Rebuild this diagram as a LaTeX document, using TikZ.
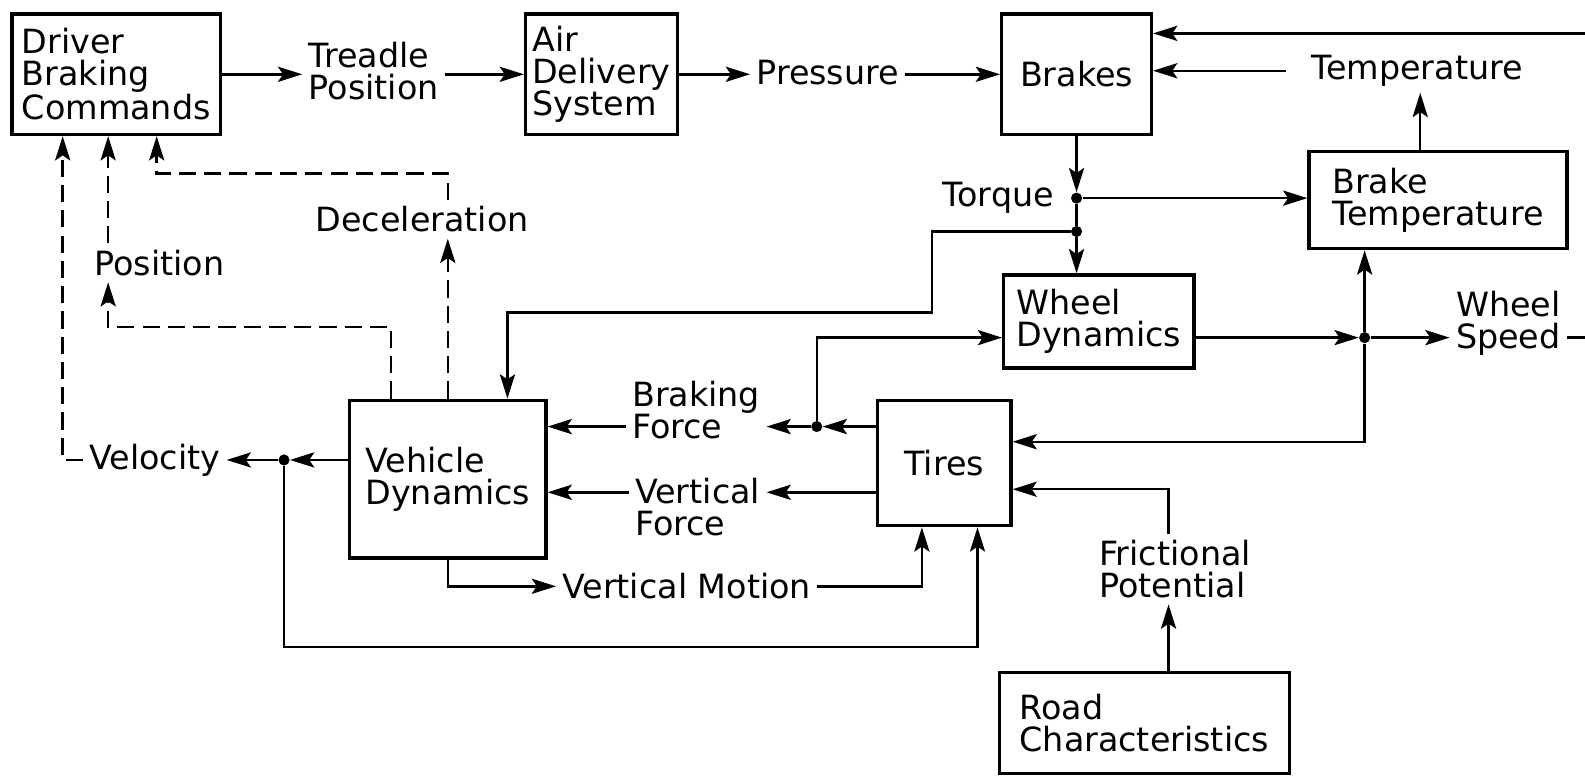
\documentclass[tikz,border=0pt]{standalone}
\usepackage{fontspec}
\setmainfont{DejaVu Sans}
\usetikzlibrary{arrows.meta}
\tikzset{
  blk/.style={draw, line width=1.7pt, align=left, inner sep=0pt, font=\fontsize{16.5}{15.8}\selectfont},
  lbl/.style={align=left, inner sep=3pt, font=\fontsize{16.5}{15.8}\selectfont},
  jdot/.style={circle, fill, inner sep=0pt, minimum size=5.5pt},
  ln/.style={line width=1.2pt},
  arr/.style={line width=1.2pt, -{Stealth[length=12pt,width=7.5pt,inset=2.5pt]}},
  dsh/.style={dash pattern=on 8.5pt off 4pt},
}
\begin{document}
\begin{tikzpicture}[x=0.5pt,y=-0.5pt]
\useasboundingbox (0,0) rectangle (1568,767);
% boxes
\node[blk, minimum width=103pt, minimum height=59.5pt] (drv) at (115,73.5) {Driver\\Braking\\Commands};
\node[blk, minimum width=75pt, minimum height=59.5pt] (air) at (595,73.5) {Air\\Delivery\\System};
\node[blk, minimum width=74pt, minimum height=59.5pt] (brk) at (1065,73.5) {Brakes};
\node[blk, minimum width=127.5pt, minimum height=48pt] (btemp) at (1422.5,198) {Brake\\Temperature};
\node[blk, minimum width=94pt, minimum height=46pt] (wdyn) at (1087,318) {Wheel\\Dynamics};
\node[blk, minimum width=97pt, minimum height=78pt] (vdyn) at (443,474) {Vehicle\\Dynamics};
\node[blk, minimum width=66pt, minimum height=62pt] (tires) at (934,458) {Tires};
\node[blk, minimum width=143.5pt, minimum height=50pt] (road) at (1132,715) {Road\\Characteristics};
% labels
\node[lbl, anchor=west] (tread) at (299,70) {Treadle\\Position};
\node[lbl, anchor=west] (press) at (742,72) {Pressure};
\node[lbl, anchor=east] (torque) at (1049,196) {Torque};
\node[lbl, anchor=west] (temp) at (1291,70) {Temperature};
\node[lbl, anchor=west] (wspeed) at (1434,320) {Wheel\\Speed};
\node[lbl, anchor=west] (bforce) at (619,406) {Braking\\Force};
\node[lbl, anchor=west] (vforce) at (622,502) {Vertical\\Force};
\node[lbl, anchor=west] (vmotion) at (550,580) {Vertical Motion};
\node[lbl, anchor=west] (fpot) at (1081,563) {Frictional\\Potential};
\node[lbl, anchor=west] (decel) at (306,217) {Deceleration};
\node[lbl, anchor=west] (pos) at (87,260) {Position};
\node[lbl, anchor=west] (vel) at (82,455) {Velocity};
% junctions
\node[jdot] (jT) at (1065,196) {};
\node[jdot] (jT2) at (1065,229) {};
\node[jdot] (jS) at (1350,334) {};
\node[jdot] (jB) at (808,422) {};
\node[jdot] (jV) at (281,455) {};
\coordinate (topR) at (1568,33);
\coordinate (wsR) at (1568,334);
% top chain
\draw[arr] (drv.east) -- (tread.west |- drv.east);
\draw[arr] (tread.east |- air.west) -- (air.west);
\draw[arr] (air.east) -- (press.west |- air.east);
\draw[arr] (press.east |- brk.west) -- (brk.west);
\draw[arr] (topR) -- (brk.east |- topR);
\draw[arr] ([xshift=-9.5pt]temp.west) -- (brk.east |- temp.west);
\draw[arr] (btemp.north -| 1405,0) -- (temp.south -| 1405,0);
% torque
\draw[arr] (brk.south) -- (jT);
\draw[ln] (jT) -- (jT2);
\draw[arr] (jT2) -- (jT2 |- wdyn.north);
\draw[arr] (jT) -- (btemp.west |- jT);
\draw[arr] (jT2) -- ++(-143,0) -- ++(0,80) -| (vdyn.north -| 502,0);
% wheel speed
\draw[arr] (wdyn.east |- jS) -- (jS);
\draw[arr] (jS) -- (wspeed.west |- jS);
\draw[ln] (wspeed.east |- jS) -- (wsR);
\draw[arr] (jS) -- (jS |- btemp.south);
\draw[arr] (jS) |- (tires.east |- 0,437);
% tires outputs
\draw[arr] (tires.west |- jB) -- (jB);
\draw[arr] (jB) -- (bforce.east |- jB);
\draw[arr] (jB) |- (wdyn.west |- jS);
\draw[arr] (bforce.west |- jB) -- (vdyn.east |- jB);
\draw[arr] (tires.west |- 0,487) -- (vforce.east |- 0,487);
\draw[arr] (vforce.west |- 0,487) -- (vdyn.east |- 0,487);
% road
\draw[arr] (road.north -| 1156,0) -- (fpot.south -| 1156,0);
\draw[arr] (fpot.north -| 1156,0) |- (tires.east |- 0,484);
% vehicle dynamics outputs
\draw[arr] (vdyn.south) |- (vmotion.west);
\draw[arr] (vmotion.east) -| (tires.south -| 912,0);
\draw[arr] (vdyn.west |- jV) -- (jV);
\draw[arr] (jV) -- (vel.east |- jV);
\draw[arr] (jV) -- ++(0,185) -| (tires.south -| 967,0);
% dashed feedback
\draw[arr, dsh] (vel.west) -| (drv.south -| 62,0);
\draw[arr, dsh] (vdyn.north -| 387,0) -- ++(0,-71) -| (pos.south -| 107,0);
\draw[arr, dsh] (pos.north -| 107,0) -- (drv.south -| 107,0);
\draw[arr, dsh] (vdyn.north) -- (decel.south -| vdyn.north);
\draw[arr, dsh] (decel.north -| vdyn.north) -- ++(0,-26) -| (drv.south -| 155,0);
\end{tikzpicture}
\end{document}
